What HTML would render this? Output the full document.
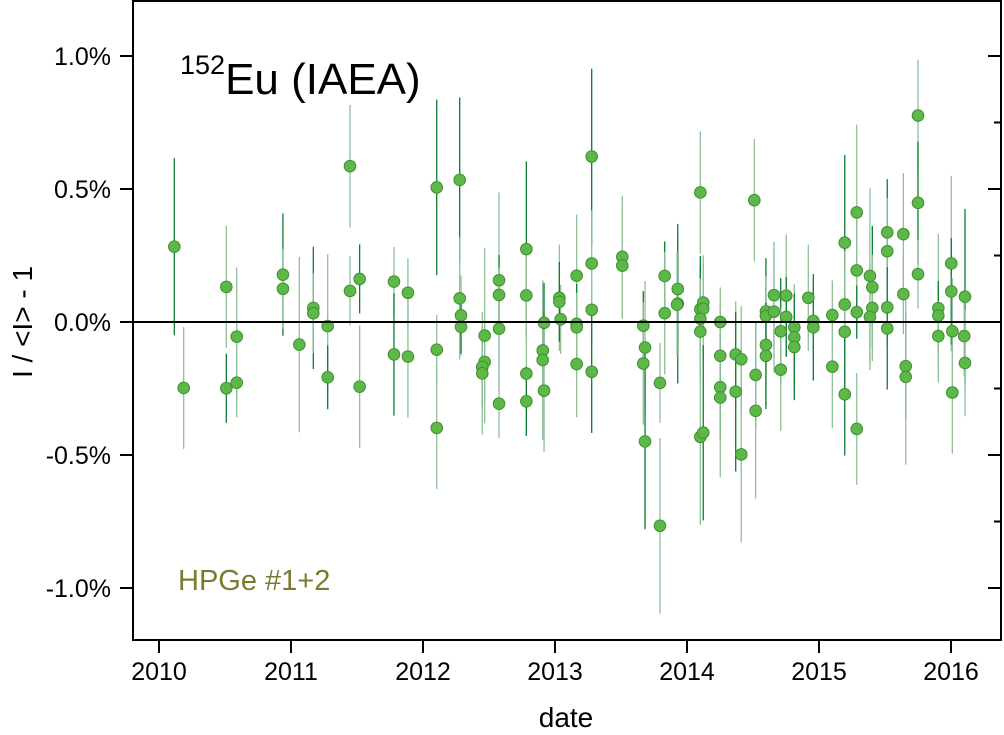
<!DOCTYPE html>
<html><head><meta charset="utf-8">
<style>
html,body{margin:0;padding:0;background:#fff;}
svg{display:block;font-family:"Liberation Sans",Arial,sans-serif;}
</style></head>
<body>
<svg id="chart" width="1004" height="735" viewBox="0 0 1004 735" xmlns="http://www.w3.org/2000/svg">
<g id="bars"></g>
<g id="pts"></g>
<g id="axes"></g>
<text x="180" y="94" font-size="44" fill="#000"><tspan font-size="27" dy="-20">152</tspan><tspan dy="20">Eu (IAEA)</tspan></text>
<text x="178" y="590" font-size="29" fill="#7b7b30">HPGe #1+2</text>
<text x="566" y="727" font-size="28" text-anchor="middle" fill="#000">date</text>
<text transform="translate(32,322) rotate(-90)" font-size="28" text-anchor="middle" fill="#000">I / &lt;I&gt; - 1</text>
</svg>
<script>
const dates=[2010.116,2010.187,2010.510,2010.510,2010.589,2010.589,2010.939,2010.939,2011.063,2011.169,2011.169,2011.278,2011.278,2011.447,2011.447,2011.520,2011.520,2011.780,2011.780,2011.886,2011.886,2012.104,2012.104,2012.104,2012.278,2012.278,2012.288,2012.288,2012.467,2012.467,2012.449,2012.449,2012.576,2012.576,2012.576,2012.576,2012.783,2012.783,2012.783,2012.783,2012.907,2012.907,2012.917,2012.917,
2013.033,2013.033,2013.043,2013.164,2013.164,2013.164,2013.164,2013.278,2013.278,2013.278,2013.278,2013.510,2013.510,2013.669,2013.682,2013.669,2013.682,2013.795,2013.795,2013.831,2013.831,2013.930,2013.930,2013.925,2014.101,2014.101,2014.123,2014.123,2014.101,2014.101,2014.101,2014.123,2014.252,2014.252,2014.252,2014.252,2014.369,2014.369,2014.411,2014.411,2014.520,2014.520,2014.510,2014.598,2014.598,2014.598,2014.598,2014.659,2014.659,2014.710,2014.710,2014.752,2014.752,2014.813,2014.813,2014.813,2014.919,2014.957,2014.957,2015.101,2015.101,2015.195,2015.195,2015.195,2015.195,2015.286,2015.286,2015.286,2015.286,2015.386,2015.404,2015.404,2015.386,2015.517,2015.517,2015.517,2015.517,2015.639,2015.639,2015.657,2015.657,2015.750,2015.750,2015.750,2015.904,2015.904,2015.904,2016.002,2016.002,2016.010,2016.010,2016.106,2016.100,2016.106];
const values=[0.283,-0.248,0.132,-0.249,-0.055,-0.228,0.178,0.125,-0.085,0.053,0.033,-0.015,-0.208,0.586,0.117,0.162,-0.243,0.152,-0.122,0.110,-0.130,0.506,-0.104,-0.398,0.534,0.089,0.025,-0.018,-0.051,-0.150,-0.169,-0.193,0.157,0.102,-0.025,-0.307,0.274,0.100,-0.194,-0.298,-0.107,-0.143,-0.003,-0.258,
0.091,0.076,0.010,0.174,-0.007,-0.020,-0.158,0.622,0.220,0.046,-0.187,0.245,0.212,-0.014,-0.096,-0.156,-0.449,-0.229,-0.766,0.173,0.033,0.124,0.069,0.065,0.487,0.048,0.073,0.050,0.012,-0.036,-0.432,-0.416,0.000,-0.127,-0.245,-0.284,-0.122,-0.262,-0.140,-0.498,-0.199,-0.334,0.458,0.040,0.023,-0.086,-0.127,0.101,0.039,-0.035,-0.179,0.099,0.019,-0.020,-0.058,-0.094,0.091,0.004,-0.020,0.026,-0.168,0.298,0.066,-0.037,-0.272,0.412,0.194,0.037,-0.402,0.173,0.131,0.053,0.019,0.337,0.266,0.055,-0.024,0.330,0.105,-0.166,-0.206,0.776,0.448,0.180,0.052,0.024,-0.053,0.220,0.115,-0.035,-0.265,0.095,-0.053,-0.154];
const errors=[0.333,0.229,0.229,0.13,0.26,0.13,0.23,0.15,0.33,0.23,0.15,0.27,0.12,0.23,0.13,0.13,0.23,0.13,0.23,0.13,0.23,0.33,0.13,0.23,0.31,0.23,0.15,0.1,0.33,0.15,0.15,0.23,0.33,0.15,0.23,0.13,0.33,0.15,0.23,0.13,0.15,0.3,0.15,0.23,
0.2,0.15,0.13,0.23,0.15,0.13,0.2,0.33,0.2,0.13,0.23,0.23,0.2,0.13,0.25,0.23,0.33,0.15,0.33,0.13,0.23,0.2,0.3,0.2,0.23,0.2,0.15,0.2,0.2,0.2,0.33,0.33,0.13,0.2,0.2,0.3,0.2,0.3,0.2,0.33,0.2,0.33,0.23,0.2,0.15,0.23,0.2,0.2,0.23,0.2,0.23,0.23,0.15,0.15,0.2,0.2,0.2,0.15,0.2,0.13,0.23,0.33,0.2,0.23,0.23,0.33,0.2,0.1,0.21,0.33,0.23,0.2,0.2,0.2,0.2,0.15,0.23,0.23,0.15,0.2,0.33,0.21,0.23,0.13,0.28,0.13,0.13,0.33,0.2,0.2,0.23,0.33,0.15,0.2];
const xTicks=[2010,2011,2012,2013,2014,2015,2016];
const yTicks=[1.0,0.5,0.0,-0.5,-1.0];
const yTickLabels=["1.0%","0.5%","0.0%","-0.5%","-1.0%"];

const NS="http://www.w3.org/2000/svg";
function X(d){return 159+(d-2010)*132;}
function Y(v){return 322-v*266;}
function mk(tag,attrs,parent){const e=document.createElementNS(NS,tag);for(const k in attrs)e.setAttribute(k,attrs[k]);parent.appendChild(e);return e;}
const bars=document.getElementById('bars'),pts=document.getElementById('pts'),axes=document.getElementById('axes');
const L=133,R=1001,T=1,B=640;
for(let i=0;i<dates.length;i++){
  const x=X(dates[i]);
  const l=mk('line',{x1:x,x2:x,y1:Y(values[i]+errors[i]),y2:Y(values[i]-errors[i]),stroke:(i%3===0?'#0a7d32':'#8fbf98'),'stroke-width':1.3},bars);
  
  
}
const z=mk('line',{x1:L,x2:R,y1:Y(0),y2:Y(0),stroke:'#000','stroke-width':2},axes);


for(let i=0;i<dates.length;i++){
  const c=mk('circle',{cx:X(dates[i]),cy:Y(values[i]),r:5.8,fill:'#5cb947',stroke:'#3f8f33','stroke-width':1},pts);
  
  
}
const fr=mk('rect',{x:L,y:T,width:R-L,height:B-T,fill:'none',stroke:'#000','stroke-width':2},axes);


yTicks.forEach((v,i)=>{
  const y=Y(v);
  const t=mk('line',{x1:L-13,x2:L,y1:y,y2:y,stroke:'#000','stroke-width':2},axes);
  
  
  const t2=mk('line',{x1:R-13,x2:R,y1:y,y2:y,stroke:'#000','stroke-width':2},axes);
  
  
  const lb=mk('text',{x:L-22,y:y+9,'font-size':25,'text-anchor':'end',fill:'#000'},axes);
  lb.textContent=yTickLabels[i];
  
  
  if(i<yTicks.length-1){
    const m=mk('line',{x1:R-7,x2:R,y1:Y(v-0.25),y2:Y(v-0.25),stroke:'#000','stroke-width':2},axes);
    
    
  }
});
xTicks.forEach(d=>{
  const x=X(d);
  const t=mk('line',{x1:x,x2:x,y1:B,y2:B+13,stroke:'#000','stroke-width':2},axes);
  
  
  const lb=mk('text',{x:x,y:B+40,'font-size':25,'text-anchor':'middle',fill:'#000'},axes);
  lb.textContent=String(d);
  
  
});
</script>
</body></html>
